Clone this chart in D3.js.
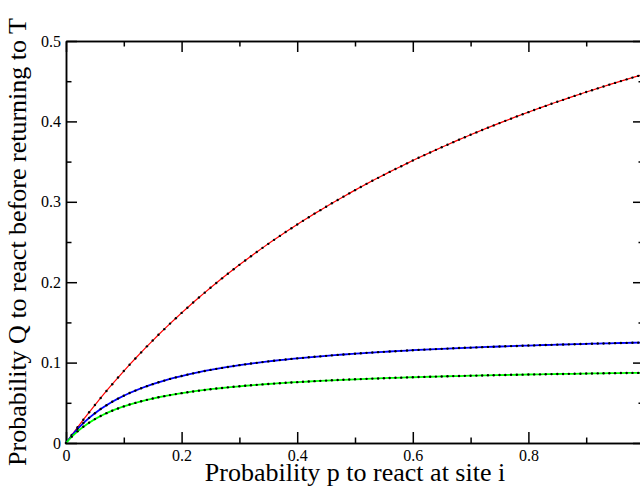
<!DOCTYPE html>
<html>
<head>
<meta charset="utf-8">
<script src="https://cdn.jsdelivr.net/npm/d3@7"></script>
<style>
    body { margin: 0; background: #fff; }
    .axis path, .axis line { stroke: #000; stroke-width: 1.5; }
    .axis text { font-family: "Liberation Serif", "Times New Roman", serif; font-size: 16px; fill: #000; }
    .title { font-family: "Liberation Serif", "Times New Roman", serif; font-size: 26px; fill: #000; }
</style>
</head>
<body>
<div id="chart-area"></div>
<script>

// probability p (x axis)
var pValues = [0.00,0.01,0.02,0.03,0.04,0.05,0.06,0.07,0.08,0.09,
    0.10,0.11,0.12,0.13,0.14,0.15,0.16,0.17,0.18,0.19,
    0.20,0.21,0.22,0.23,0.24,0.25,0.26,0.27,0.28,0.29,
    0.30,0.31,0.32,0.33,0.34,0.35,0.36,0.37,0.38,0.39,
    0.40,0.41,0.42,0.43,0.44,0.45,0.46,0.47,0.48,0.49,
    0.50,0.51,0.52,0.53,0.54,0.55,0.56,0.57,0.58,0.59,
    0.60,0.61,0.62,0.63,0.64,0.65,0.66,0.67,0.68,0.69,
    0.70,0.71,0.72,0.73,0.74,0.75,0.76,0.77,0.78,0.79,
    0.80,0.81,0.82,0.83,0.84,0.85,0.86,0.87,0.88,0.89,
    0.90,0.91,0.92,0.93,0.94,0.95,0.96,0.97,0.98,0.99,1.00];

// Q
var redQ = [0,0.0099,0.0195,0.0290,0.0382,0.0472,0.0560,0.0647,0.0731,0.0814,
    0.0895,0.0974,0.1051,0.1127,0.1202,0.1274,0.1346,0.1416,0.1485,0.1552,
    0.1618,0.1683,0.1747,0.1809,0.1870,0.1931,0.1990,0.2048,0.2105,0.2161,
    0.2216,0.2270,0.2323,0.2375,0.2427,0.2477,0.2527,0.2576,0.2624,0.2671,
    0.2717,0.2763,0.2808,0.2853,0.2896,0.2939,0.2982,0.3023,0.3064,0.3105,
    0.3145,0.3184,0.3223,0.3261,0.3298,0.3335,0.3372,0.3408,0.3443,0.3478,
    0.3513,0.3547,0.3581,0.3614,0.3646,0.3679,0.3710,0.3742,0.3773,0.3803,
    0.3834,0.3863,0.3893,0.3922,0.3950,0.3979,0.4007,0.4034,0.4062,0.4089,
    0.4115,0.4142,0.4168,0.4193,0.4219,0.4244,0.4268,0.4293,0.4317,0.4341,
    0.4365,0.4388,0.4411,0.4434,0.4457,0.4479,0.4501,0.4523,0.4545,0.4566,0.4587];

// Q
var blueQ = [0,0.0093,0.0175,0.0248,0.0313,0.0370,0.0423,0.0470,0.0513,0.0552,
    0.0588,0.0622,0.0652,0.0681,0.0707,0.0732,0.0755,0.0776,0.0797,0.0816,
    0.0833,0.0850,0.0866,0.0881,0.0896,0.0909,0.0922,0.0934,0.0946,0.0957,
    0.0968,0.0978,0.0988,0.0997,0.1006,0.1015,0.1023,0.1031,0.1038,0.1046,
    0.1053,0.1059,0.1066,0.1072,0.1078,0.1084,0.1090,0.1096,0.1101,0.1106,
    0.1111,0.1116,0.1121,0.1125,0.1130,0.1134,0.1138,0.1142,0.1146,0.1150,
    0.1154,0.1158,0.1161,0.1165,0.1168,0.1171,0.1174,0.1178,0.1181,0.1184,
    0.1186,0.1189,0.1192,0.1195,0.1197,0.1200,0.1203,0.1205,0.1207,0.1210,
    0.1212,0.1214,0.1217,0.1219,0.1221,0.1223,0.1225,0.1227,0.1229,0.1231,
    0.1233,0.1235,0.1237,0.1238,0.1240,0.1242,0.1244,0.1245,0.1247,0.1248,0.1250];

// Q
var greenQ = [0,0.0079,0.0145,0.0203,0.0253,0.0297,0.0336,0.0371,0.0402,0.0430,
    0.0455,0.0478,0.0499,0.0519,0.0537,0.0553,0.0569,0.0583,0.0596,0.0608,
    0.0620,0.0631,0.0641,0.0651,0.0660,0.0669,0.0677,0.0684,0.0692,0.0699,
    0.0705,0.0712,0.0718,0.0723,0.0729,0.0734,0.0739,0.0744,0.0749,0.0753,
    0.0757,0.0761,0.0765,0.0769,0.0773,0.0776,0.0780,0.0783,0.0786,0.0789,
    0.0792,0.0795,0.0798,0.0801,0.0803,0.0806,0.0809,0.0811,0.0813,0.0816,
    0.0818,0.0820,0.0822,0.0824,0.0826,0.0828,0.0830,0.0832,0.0833,0.0835,
    0.0837,0.0838,0.0840,0.0842,0.0843,0.0845,0.0846,0.0848,0.0849,0.0850,
    0.0852,0.0853,0.0854,0.0856,0.0857,0.0858,0.0859,0.0860,0.0861,0.0862,
    0.0864,0.0865,0.0866,0.0867,0.0868,0.0869,0.0870,0.0871,0.0872,0.0872,0.0873];

var seriesNames = ["red", "blue", "green"];
var seriesColors = ["#ff0000", "#0000ff", "#00ff00"];
var seriesWidths = [1.2, 1.8, 1.8];

var xTicksMajor = [0, 0.2, 0.4, 0.6, 0.8, 1];
var xTicksMinor = [0.1, 0.3, 0.5, 0.7, 0.9];
var yTicksMajor = [0, 0.1, 0.2, 0.3, 0.4, 0.5];
var yTicksMinor = [0.05, 0.15, 0.25, 0.35, 0.45];

var xTitle = "Probability p to react at site i";
var yTitle = "Probability Q to react before returning to T";


Qchart = function(_parentElement){
    this.parentElement = _parentElement;
    this.initVis();
}

Qchart.prototype.initVis = function(){
    var vis = this;

    vis.margin = {top: 41, bottom: 48, left: 66, right: -4};
    vis.width = 640 - vis.margin.left - vis.margin.right;
    vis.height = 491 - vis.margin.top - vis.margin.bottom;

    vis.svg = d3.select("#" + vis.parentElement).append("svg")
        .attr("width", 640)
        .attr("height", 491)
        .append("g")
        .attr("transform", "translate(" + vis.margin.left + "," + vis.margin.top + ")");

    vis.x = d3.scaleLinear().domain([0, 1]).range([0, vis.width]);
    vis.y = d3.scaleLinear().domain([0, 0.5]).range([vis.height, 0]);

    vis.data = seriesNames.map(function(name, i){
        var vals = [redQ, blueQ, greenQ][i];
        return {
            name: name,
            color: seriesColors[i],
            width: seriesWidths[i],
            values: pValues.map(function(p, j){ return {p: p, q: vals[j]}; })
        };
    });

    vis.updateVis();
}

Qchart.prototype.updateVis = function(){
    var vis = this;

    var fmt = function(d){ return d === 0 ? "0" : d3.format(".1f")(d); };

    // bottom
    vis.svg.append("g")
        .attr("class", "axis")
        .attr("transform", "translate(0," + vis.height + ")")
        .call(d3.axisBottom(vis.x).tickValues(xTicksMajor).tickSizeInner(-11).tickSizeOuter(0).tickPadding(7)
            .tickFormat(function(d){ return d === 1 ? "" : fmt(d); }));
    vis.svg.append("g")
        .attr("class", "axis")
        .attr("transform", "translate(0," + vis.height + ")")
        .call(d3.axisBottom(vis.x).tickValues(xTicksMinor).tickSizeInner(-5.5).tickSizeOuter(0).tickFormat(""));

    // top
    vis.svg.append("g")
        .attr("class", "axis")
        .call(d3.axisTop(vis.x).tickValues(xTicksMajor).tickSizeInner(-11).tickSizeOuter(0).tickFormat(""));
    vis.svg.append("g")
        .attr("class", "axis")
        .call(d3.axisTop(vis.x).tickValues(xTicksMinor).tickSizeInner(-5.5).tickSizeOuter(0).tickFormat(""));

    // left
    vis.svg.append("g")
        .attr("class", "axis")
        .call(d3.axisLeft(vis.y).tickValues(yTicksMajor).tickSizeInner(-11).tickSizeOuter(0).tickPadding(5)
            .tickFormat(fmt));
    vis.svg.append("g")
        .attr("class", "axis")
        .call(d3.axisLeft(vis.y).tickValues(yTicksMinor).tickSizeInner(-5.5).tickSizeOuter(0).tickFormat(""));

    // right
    vis.svg.append("g")
        .attr("class", "axis")
        .attr("transform", "translate(" + vis.width + ",0)")
        .call(d3.axisRight(vis.y).tickValues(yTicksMajor).tickSizeInner(-11).tickSizeOuter(0).tickFormat(""));
    vis.svg.append("g")
        .attr("class", "axis")
        .attr("transform", "translate(" + vis.width + ",0)")
        .call(d3.axisRight(vis.y).tickValues(yTicksMinor).tickSizeInner(-5.5).tickSizeOuter(0).tickFormat(""));

    vis.line = d3.line()
        .x(function(d) { return vis.x(d.p); })
        .y(function(d) { return vis.y(d.q); });

    vis.data.forEach(function(s){
        vis.svg.append("path")
            .datum(s.values)
            .attr("fill", "none")
            .attr("stroke", s.color)
            .attr("stroke-width", s.width)
            .attr("d", vis.line);

        vis.svg.append("g").selectAll("circle")
            .data(s.values)
            .enter().append("circle")
            .attr("cx", function(d) { return vis.x(d.p); })
            .attr("cy", function(d) { return vis.y(d.q); })
            .attr("r", 1.2)
            .attr("fill", "#000");
    });

    vis.svg.append("text")
        .attr("class", "title")
        .attr("x", vis.width / 2)
        .attr("y", vis.height + 38)
        .style("text-anchor", "middle")
        .text(xTitle);

    vis.svg.append("text")
        .attr("class", "title")
        .attr("transform", "rotate(-90)")
        .attr("x", -vis.height / 2)
        .attr("y", 26 - vis.margin.left)
        .style("text-anchor", "middle")
        .text(yTitle);
}

var chart = new Qchart("chart-area");

</script>
</body>
</html>
